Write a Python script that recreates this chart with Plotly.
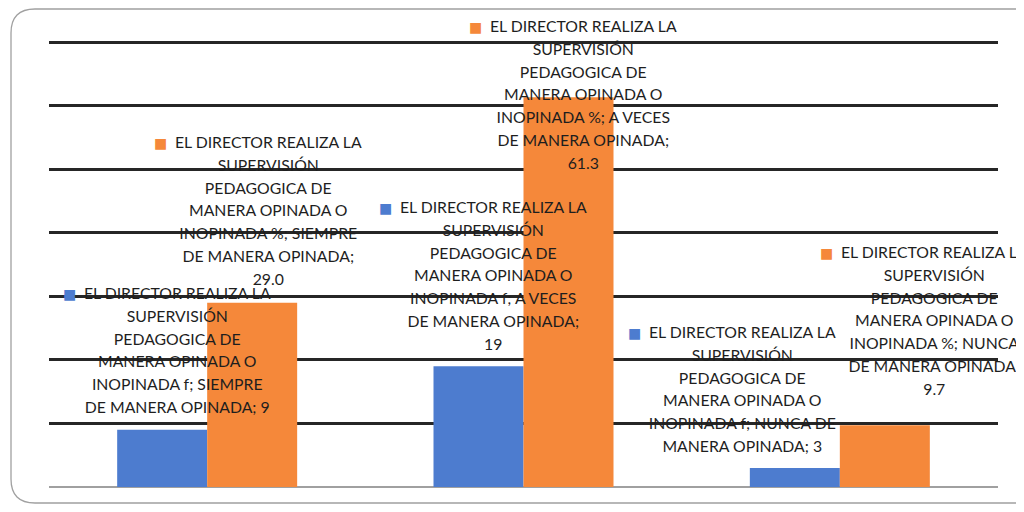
import plotly.graph_objects as go

# ---- data ----
categories = ["SIEMPRE DE MANERA OPINADA", "A VECES DE MANERA OPINADA", "NUNCA DE MANERA OPINADA"]
series_f_name = "EL DIRECTOR REALIZA LA SUPERVISIÓN PEDAGOGICA DE MANERA OPINADA O INOPINADA f"
series_p_name = "EL DIRECTOR REALIZA LA SUPERVISIÓN PEDAGOGICA DE MANERA OPINADA O INOPINADA %"
values_f = [9, 19, 3]
values_p = [29.0, 61.3, 9.7]
y_max = 70

# ---- style / layout ----
BLUE = "#4D7CCF"
ORANGE = "#F5883A"
TEXT = "#1E1E1E"
PAGE_OFF = 8                      # browser body margin
W, H = 1024 - 2 * PAGE_OFF, 512 - 2 * PAGE_OFF
PLOT_L, PLOT_R, PLOT_T, PLOT_B = 49, 998, 42, 487   # screen px of the value grid
EXTRA_T = 3                                         # keep top gridline off the clip edge
k = (PLOT_B - PLOT_T) / y_max
ML = PLOT_L - PAGE_OFF
MR = W - (PLOT_R - PAGE_OFF)
MT = PLOT_T - EXTRA_T - PAGE_OFF
MB = H - (PLOT_B - PAGE_OFF)
PW, PH = W - ML - MR, H - MT - MB
y_top = y_max + EXTRA_T / k

# words per wrapped line for each data label (f series then % series)
wrap_f = [[4, 1, 2, 3, 3, 4], [4, 1, 2, 3, 4, 3, 1], [4, 1, 2, 3, 4, 3]]
wrap_p = [[4, 1, 2, 3, 3, 3, 1], [4, 1, 2, 3, 4, 3, 1], [4, 1, 2, 3, 3, 3, 1]]
# label offsets (px) relative to bar centre / bar top
off_f = [(15, 12), (15, 11), (-52, 11)]
off_p = [(16, 13), (15, -77), (50, 25)]


def wrap(text, counts):
    words = text.split(" ")
    lines, i = [], 0
    for c in counts:
        lines.append(" ".join(words[i:i + c]))
        i += c
    return lines


def label(name, cat, val, fmt, counts, color):
    txt = f"{name}; {cat}; {fmt.format(val)}"
    lines = wrap(txt, counts)
    key = (f"<span style='font-family:DejaVu Sans;font-size:14px;color:{color}'>■</span>"
           f"<span style='font-family:DejaVu Sans;font-size:12px'>\u00a0\u00a0</span>")
    pad = (f"<span style='font-family:DejaVu Sans;font-size:12px'>\u00a0\u00a0</span>"
           f"<span style='font-family:DejaVu Sans;font-size:14px;color:rgba(0,0,0,0)'>■</span>")
    lines[0] = key + lines[0] + pad
    body = "<br>".join(lines)
    return f"<span style='font-size:15.8px'>{body}</span>"


fig = go.Figure()
fig.add_trace(go.Bar(x=categories, y=values_f, name=series_f_name, marker_color=BLUE,
                     marker_line_width=0))
fig.add_trace(go.Bar(x=categories, y=values_p, name=series_p_name, marker_color=ORANGE,
                     marker_line_width=0))

annotations = []
for i, cat in enumerate(categories):
    for name, vals, fmt, wraps, offs, col, side in (
        (series_f_name, values_f, "{:g}", wrap_f, off_f, BLUE, -45),
        (series_p_name, values_p, "{:.1f}", wrap_p, off_p, ORANGE, 45),
    ):
        dx, dy = offs[i]
        annotations.append(dict(
            x=cat, y=vals[i], xref="x", yref="y",
            text=label(name, cat, vals[i], fmt, wraps[i], col),
            showarrow=False, xanchor="center", yanchor="bottom",
            xshift=side + dx, yshift=dy, align="center",
            font=dict(family="Lato", size=17.5, color=TEXT),
        ))


def px(xs):
    return (xs - PAGE_OFF - ML) / PW


def py(ys):
    return (H - MB - (ys - PAGE_OFF)) / PH


# rounded chart border (runs off-canvas on the right, as in the source)
L, T, R, B, RAD = 11, 9, 1040, 503, 24
border = (f"M {px(L)},{py(T + RAD)} Q {px(L)},{py(T)} {px(L + RAD)},{py(T)} "
          f"L {px(R - RAD)},{py(T)} Q {px(R)},{py(T)} {px(R)},{py(T + RAD)} "
          f"L {px(R)},{py(B - RAD)} Q {px(R)},{py(B)} {px(R - RAD)},{py(B)} "
          f"L {px(L + RAD)},{py(B)} Q {px(L)},{py(B)} {px(L)},{py(B - RAD)} Z")

fig.update_layout(
    width=W, height=H,
    margin=dict(l=ML, r=MR, t=MT, b=MB, pad=0),
    paper_bgcolor="white", plot_bgcolor="white",
    barmode="group", bargap=0.431, bargroupgap=0,
    showlegend=False,
    font=dict(family="Lato", color=TEXT),
    annotations=annotations,
    shapes=[dict(type="path", path=border, xref="paper", yref="paper",
                 line=dict(color="#A0A0A0", width=1.3), fillcolor="rgba(0,0,0,0)",
                 layer="below")],
    xaxis=dict(type="category", range=[-0.5, len(categories) - 0.5],
               showticklabels=False, ticks="", showgrid=False, showline=False,
               zeroline=False),
    yaxis=dict(range=[0, y_top], dtick=10, tick0=0, showticklabels=False, ticks="",
               showgrid=True, gridcolor="#262626", gridwidth=2.5,
               zeroline=True, zerolinecolor="#A0A0A0", zerolinewidth=2,
               showline=False),
)

fig.write_html("out.html")
